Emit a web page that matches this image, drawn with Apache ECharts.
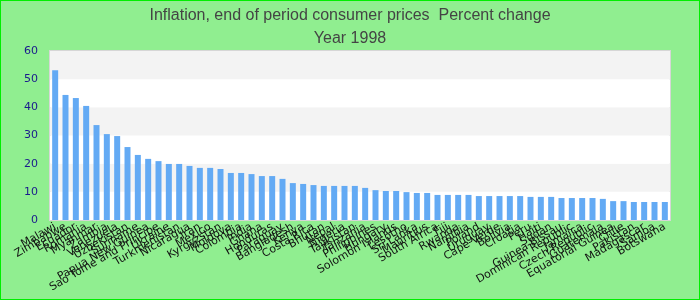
<!DOCTYPE html>
<html><head><meta charset="utf-8">
<script src="https://cdn.jsdelivr.net/npm/echarts@6/dist/echarts.min.js"></script>
<style>html,body{margin:0;padding:0;background:#90ee90}#c{width:700px;height:300px}</style>
</head><body><div id="c"></div>
<script>
const titleText = "Inflation, end of period consumer prices  Percent change";
const subTitleText = "Year 1998";
const countries = ["Malawi","Zimbabwe","Ecuador","Romania","Myanmar","Zambia","Venezuela","Uzbekistan","Suriname","Papua New Guinea","Sao Tome and Principe","Ukraine","Turkmenistan","Nicaragua","Iran","Mexico","Kyrgyzstan","Moldova","Colombia","India","Ghana","Honduras","Paraguay","Bangladesh","Kenya","Costa Rica","Bhutan","Nepal","Nigeria","Tajikistan","Tanzania","Philippines","Hungary","Solomon Islands","Lesotho","Sri Lanka","Mauritius","South Africa","Fiji","Rwanda","Namibia","Poland","Uruguay","Cape Verde","Bolivia","Croatia","Peru","Haiti","Sudan","Guinea-Bissau","Dominican Republic","Jamaica","Czech Republic","Guatemala","Equatorial Guinea","Chile","Pakistan","Madagascar","Samoa","Botswana"];
const inflation = [53.2,44.4,43.3,40.5,33.7,30.5,29.8,25.9,23.1,21.7,20.9,19.9,19.9,19.2,18.5,18.5,18.1,16.7,16.7,16.3,15.6,15.6,14.6,13.1,12.8,12.4,12.1,12.1,12.1,12.1,11.4,10.6,10.3,10.3,9.9,9.6,9.6,8.9,8.9,8.9,8.9,8.5,8.5,8.5,8.5,8.5,8.2,8.2,8.2,7.8,7.8,7.8,7.8,7.5,6.7,6.7,6.4,6.4,6.4,6.4];
const yTicks = {min:0, max:60, interval:10};

const chart = echarts.init(document.getElementById('c'), null, {renderer:'canvas'});
chart.setOption({
  backgroundColor:'#90ee90',
  animation:false,
  title:[
    {text:titleText, left:'center', top:3, textStyle:{fontFamily:'Liberation Sans', fontSize:16, fontWeight:'normal', color:'#444'}},
    {text:subTitleText, left:'center', top:26, textStyle:{fontFamily:'Liberation Sans', fontSize:16, fontWeight:'normal', color:'#444'}}
  ],
  graphic:[{type:'rect', silent:true, shape:{x:0,y:0,width:700,height:300}, style:{fill:'none', stroke:'#00ee00', lineWidth:2}}],
  grid:{left:50, right:30, top:51, bottom:80, show:true, backgroundColor:'#fff', borderColor:'#d6d6d6', borderWidth:2, containLabel:false},
  xAxis:{type:'category', data:countries,
    axisLine:{show:false}, axisTick:{show:false},
    axisLabel:{interval:0, rotate:30, fontFamily:'DejaVu Sans', fontSize:11, color:'#111', margin:6}},
  yAxis:{type:'value', min:yTicks.min, max:yTicks.max, interval:yTicks.interval,
    axisLine:{show:false}, axisTick:{show:false}, splitLine:{show:false},
    splitArea:{show:true, areaStyle:{color:['#ffffff','#f3f3f3']}},
    axisLabel:{fontFamily:'DejaVu Sans', fontSize:11, color:'#1a1a8c', margin:12}},
  series:[{type:'bar', data:inflation, barWidth:6, itemStyle:{color:'#63aaf4'}}]
});
</script></body></html>
